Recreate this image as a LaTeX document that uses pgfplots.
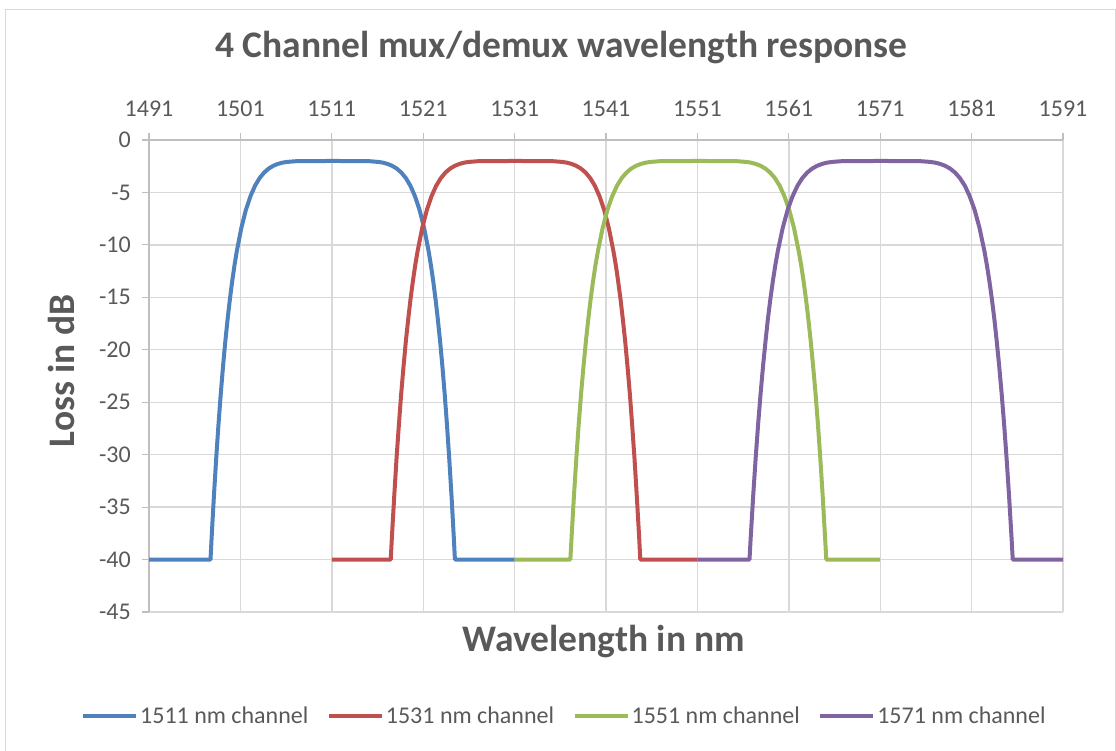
\documentclass[border=0pt]{standalone}
\usepackage{pgfplots}
\pgfplotsset{compat=1.18}
\usepackage{pgfplotstable}
\usepackage{fontspec}
\setmainfont{Carlito}
\definecolor{txt}{HTML}{595959}
\definecolor{gridc}{HTML}{D9D9D9}
\definecolor{axc}{HTML}{BFBFBF}
\definecolor{cb}{HTML}{4F81BD}
\definecolor{cr}{HTML}{C0504D}
\definecolor{cg}{HTML}{9BBB59}
\definecolor{cp}{HTML}{8064A2}

% wavelength (nm) for each channel, common loss column (dB)
\pgfplotstableread{
b       r       g       p       L
1491    1511    1531    1551    -40
1497.73 1517.45 1537.10 1556.70 -40
1497.85 1517.57 1537.23 1556.83 -37.93
1498.10 1517.83 1537.49 1557.10 -33.97
1498.35 1518.08 1537.75 1557.37 -30.39
1498.60 1518.34 1538.01 1557.64 -27.14
1498.85 1518.59 1538.27 1557.91 -24.21
1499.10 1518.85 1538.54 1558.18 -21.57
1499.35 1519.10 1538.80 1558.45 -19.20
1499.60 1519.36 1539.06 1558.71 -17.08
1499.85 1519.61 1539.32 1558.98 -15.18
1500.10 1519.87 1539.58 1559.25 -13.48
1500.35 1520.12 1539.84 1559.52 -11.97
1500.60 1520.38 1540.11 1559.79 -10.63
1501.10 1520.89 1540.63 1560.33 -8.40
1501.60 1521.40 1541.15 1560.87 -6.67
1502.10 1521.91 1541.68 1561.41 -5.36
1502.60 1522.42 1542.20 1561.95 -4.36
1503.10 1522.93 1542.72 1562.48 -3.63
1503.60 1523.44 1543.25 1563.02 -3.10
1504.10 1523.95 1543.77 1563.56 -2.72
1504.60 1524.46 1544.29 1564.10 -2.46
1505.10 1524.97 1544.82 1564.64 -2.28
1505.60 1525.48 1545.34 1565.18 -2.16
1506.10 1525.99 1545.87 1565.72 -2.09
1507.10 1527.02 1546.91 1566.79 -2.02
1508.10 1528.04 1547.96 1567.87 -2.01
1511.10 1531.10 1551.10 1571.10 -2.00
1514.10 1534.16 1554.24 1574.33 -2.01
1515.10 1535.18 1555.29 1575.41 -2.02
1516.10 1536.21 1556.34 1576.49 -2.09
1516.60 1536.72 1556.86 1577.02 -2.16
1517.10 1537.23 1557.38 1577.56 -2.28
1517.60 1537.74 1557.91 1578.10 -2.46
1518.10 1538.25 1558.43 1578.64 -2.72
1518.60 1538.76 1558.95 1579.18 -3.10
1519.10 1539.27 1559.48 1579.72 -3.63
1519.60 1539.78 1560.00 1580.26 -4.36
1520.10 1540.29 1560.52 1580.79 -5.36
1520.60 1540.80 1561.05 1581.33 -6.67
1521.10 1541.31 1561.57 1581.87 -8.40
1521.60 1541.82 1562.09 1582.41 -10.63
1521.85 1542.08 1562.36 1582.68 -11.97
1522.10 1542.33 1562.62 1582.95 -13.48
1522.35 1542.59 1562.88 1583.22 -15.18
1522.60 1542.84 1563.14 1583.49 -17.08
1522.85 1543.10 1563.40 1583.75 -19.20
1523.10 1543.35 1563.66 1584.02 -21.57
1523.35 1543.61 1563.93 1584.29 -24.21
1523.60 1543.86 1564.19 1584.56 -27.14
1523.85 1544.12 1564.45 1584.83 -30.39
1524.10 1544.37 1564.71 1585.10 -33.97
1524.35 1544.63 1564.97 1585.37 -37.93
1524.47 1544.75 1565.10 1585.50 -40
1531    1551    1571    1591    -40
}\data

\begin{document}
\begin{tikzpicture}
\useasboundingbox (0pt,0pt) rectangle (1116pt,751pt);
\draw[gridc, line width=1pt] (5pt,-2pt) rectangle (1115pt,741pt);
\begin{axis}[
  at={(149pt,139pt)}, anchor=south west,
  scale only axis, width=914pt, height=472pt,
  xmin=1491, xmax=1591, ymin=-45, ymax=0,
  xtick={1491,1501,1511,1521,1531,1541,1551,1561,1571,1581,1591},
  ytick={-45,-40,-35,-30,-25,-20,-15,-10,-5,0},
  xticklabels={1491,1501,1511,1521,1531,1541,1551,1561,1571,1581,1591},
  yticklabels={-45,-40,-35,-30,-25,-20,-15,-10,-5,0},
  axis x line*=top, axis y line*=left,
  axis line style={axc, line width=1.2pt},
  tick align=outside, major tick length=7pt,
  tick style={axc, line width=1.2pt},
  grid=major, major grid style={gridc, line width=1.4pt},
  ticklabel style={font=\fontsize{24}{29}\selectfont, text=txt},
  xticklabel style={inner sep=0pt, anchor=south, yshift=16pt},
  yticklabel style={inner sep=0pt, anchor=east, xshift=-11pt},
  title={4 Channel mux/demux wavelength response},
  title style={at={(axis description cs:0.4513,1.1625)}, anchor=base, inner sep=0pt,
    font=\fontsize{37.5}{45}\selectfont\bfseries, text=txt},
  xlabel={Wavelength in nm},
  xlabel style={at={(axis description cs:0.4978,-0.0841)}, anchor=base, inner sep=0pt,
    font=\fontsize{37.5}{45}\selectfont\bfseries, text=txt},
  ylabel={Loss in dB},
  ylabel style={at={(axis description cs:-0.081,0.511)}, rotate=0, anchor=base, inner sep=0pt,
    font=\fontsize{37.5}{45}\selectfont\bfseries, text=txt},
  legend columns=4,
  legend style={at={(axis description cs:-0.0744,-0.2203)}, anchor=west,
    draw=none, fill=none, inner sep=0pt,
    font=\fontsize{24}{29}\selectfont, text=txt,
    nodes={inner sep=2pt},
    /tikz/every even column/.append style={column sep=16.5pt}},
  legend cell align=left,
  legend image code/.code={\draw[#1] (0pt,0pt) -- (53pt,0pt);},
  every axis plot/.append style={line width=4pt, line join=round},
]
\addplot[cb] table[x=b, y=L] {\data};
\addlegendentry{1511 nm channel}
\addplot[cr] table[x=r, y=L] {\data};
\addlegendentry{1531 nm channel}
\addplot[cg] table[x=g, y=L] {\data};
\addlegendentry{1551 nm channel}
\addplot[cp] table[x=p, y=L] {\data};
\addlegendentry{1571 nm channel}
\end{axis}
\end{tikzpicture}
\end{document}
